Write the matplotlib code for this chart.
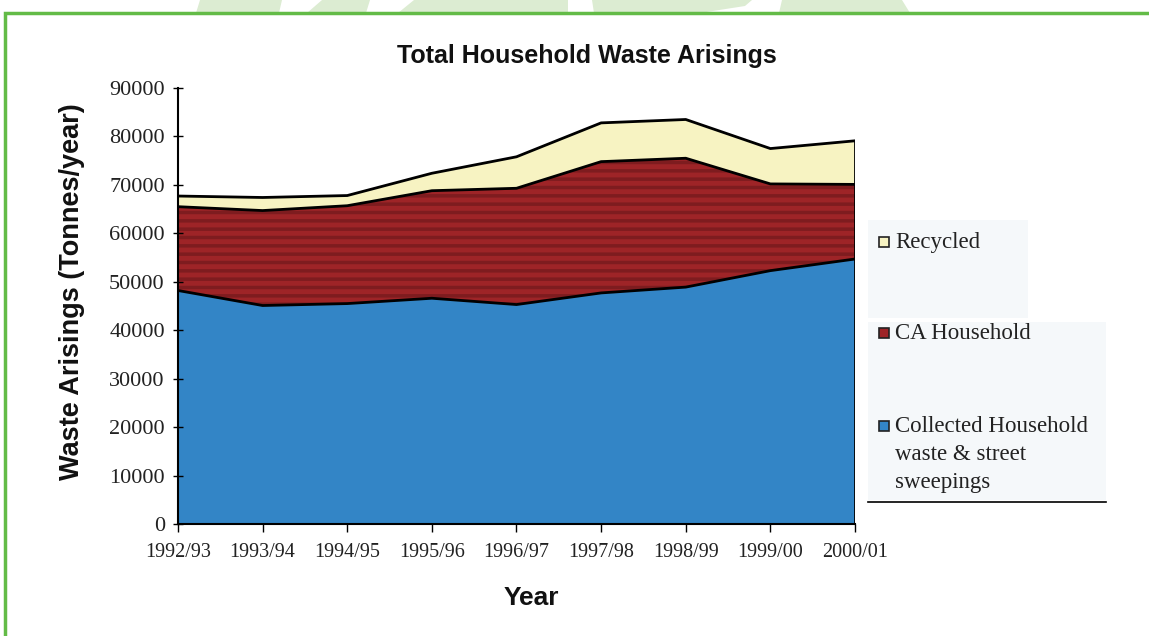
import numpy as np
import matplotlib
matplotlib.use('Agg')
import matplotlib.pyplot as plt
from matplotlib.patches import Rectangle, Polygon

# data (tonnes/year)
years = ['1992/93', '1993/94', '1994/95', '1995/96', '1996/97',
         '1997/98', '1998/99', '1999/00', '2000/01']
collected = [48200, 45100, 45500, 46600, 45300, 47700, 48900, 52300, 54700]
ca_household = [17300, 19600, 20200, 22200, 24000, 27100, 26600, 17900, 15400]
recycled = [2200, 2700, 2100, 3600, 6500, 8000, 8000, 7300, 9000]
labels = ['Recycled', 'CA Household', 'Collected Household\nwaste & street\nsweepings']

blue = '#3385c6'
red = '#9e2427'
yellow = '#f7f3c2'

plt.rcParams['hatch.linewidth'] = 2.5

W, H = 1149, 636
fig = plt.figure(figsize=(W / 100, H / 100), dpi=100)
fig.patch.set_facecolor('white')

def fx(px):
    return px / W

def fy(py):
    return 1 - py / H

# pale green logo pieces peeking above the frame
for pts in [[(200, 0), (282, 0), (279, 13), (196, 13)],
            [(322, 0), (370, 0), (366, 13), (307, 13)],
            [(414, 0), (568, 0), (568, 13), (398, 13)],
            [(592, 0), (752, 0), (745, 6), (700, 13), (594, 13)],
            [(782, 0), (902, 0), (910, 13), (779, 13)]]:
    fig.add_artist(Polygon([(fx(a), fy(b)) for a, b in pts], closed=True,
                           transform=fig.transFigure, facecolor='#dcecd2',
                           edgecolor='none', zorder=0))

# green frame round the page
fig.add_artist(Rectangle((fx(5), -0.05), 1.2, fy(13) + 0.05, transform=fig.transFigure,
                         fill=False, edgecolor='#63bb47', linewidth=2.5))
# pale scanned backgrounds behind legend
fig.add_artist(Rectangle((fx(868), fy(318)), fx(160), 98 / H, transform=fig.transFigure,
                         facecolor='#f5f8fa', edgecolor='none', zorder=0))
fig.add_artist(Rectangle((fx(868), fy(500)), fx(238), 178 / H, transform=fig.transFigure,
                         facecolor='#f5f8fa', edgecolor='none', zorder=0))

ax = fig.add_axes([fx(178), fy(524), fx(677), 436 / H])
x = np.arange(len(years))
c1 = np.array(collected)
c2 = c1 + np.array(ca_household)
c3 = c2 + np.array(recycled)

ax.fill_between(x, 0, c1, facecolor=blue, edgecolor='none', linewidth=0)
ax.fill_between(x, c1, c2, facecolor=red, edgecolor='#7e1c1f', hatch='--', linewidth=0)
ax.fill_between(x, c2, c3, facecolor=yellow, edgecolor='none', linewidth=0)
for top in (c1, c2, c3):
    ax.plot(x, top, color='black', linewidth=2)
ax.plot([x[-1], x[-1]], [0, c3[-1]], color='black', linewidth=2)

ax.set_xlim(0, len(years) - 1)
ax.set_ylim(0, 90000)
ax.set_yticks(np.arange(0, 90001, 10000))
ax.set_xticks(x)
ax.set_xticklabels(years)
for s in ['top', 'right']:
    ax.spines[s].set_visible(False)
ax.spines['left'].set_linewidth(1.5)
ax.spines['bottom'].set_linewidth(1.5)
ax.tick_params(axis='y', direction='inout', length=7, width=1, pad=6)
ax.tick_params(axis='x', direction='out', length=6, width=1, pad=8)
for lab in ax.get_xticklabels() + ax.get_yticklabels():
    lab.set_fontfamily('Liberation Serif')
    lab.set_color('#222222')
for lab in ax.get_yticklabels():
    lab.set_fontsize(16)
for lab in ax.get_xticklabels():
    lab.set_fontsize(14.5)

fig.text(fx(587), fy(56), 'Total Household Waste Arisings', ha='center', va='center',
         fontsize=18, fontweight='bold', family='Liberation Sans', color='#111111')
fig.text(fx(72), fy(292), 'Waste Arisings (Tonnes/year)', ha='center', va='center',
         rotation=90, fontsize=19.5, fontweight='bold', family='Liberation Sans', color='#111111')
fig.text(fx(531), fy(598), 'Year', ha='center', va='center',
         fontsize=19, fontweight='bold', family='Liberation Sans', color='#111111')

# legend drawn by hand to keep the scanned spacing
for lab, col, ypx in zip(labels, [yellow, red, blue], [242, 333, 426]):
    fig.add_artist(Rectangle((fx(879), fy(ypx + 5)), fx(10), 10 / H,
                             transform=fig.transFigure, facecolor=col,
                             edgecolor='#222222', linewidth=1.2))
    fig.text(fx(895), fy(ypx - 10), lab, ha='left', va='top', fontsize=16.5,
             family='Liberation Serif', color='#222222', linespacing=1.45)
fig.add_artist(plt.Line2D([fx(868), fx(1106)], [fy(502), fy(502)],
                          transform=fig.transFigure, color='black', linewidth=1.2))

plt.savefig('out.png', dpi=100)
